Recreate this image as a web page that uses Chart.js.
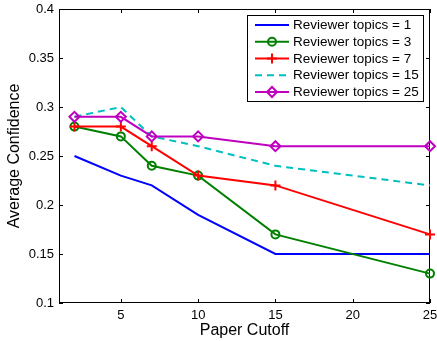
<!DOCTYPE html>
<html>
<head>
<meta charset="utf-8">
<script src="https://cdn.jsdelivr.net/npm/chart.js@4/dist/chart.umd.min.js"></script>
<style>
  html, body { margin: 0; padding: 0; background: #fff; }
</style>
</head>
<body>
<canvas id="confChart" width="437" height="341"></canvas>
<script>
// values
const cutoffs = [2, 5, 7, 10, 15, 25];
const topics1 = [0.25, 0.23, 0.22, 0.19, 0.15, 0.15];
const topics3 = [0.28, 0.27, 0.24, 0.23, 0.17, 0.13];
const topics7 = [0.28, 0.28, 0.26, 0.23, 0.22, 0.17];
const topics15 = [0.29, 0.30, 0.27, 0.26, 0.24, 0.22];
const topics25 = [0.29, 0.29, 0.27, 0.27, 0.26, 0.26];
const seriesLabels = ['Reviewer topics = 1', 'Reviewer topics = 3', 'Reviewer topics = 7',
                      'Reviewer topics = 15', 'Reviewer topics = 25'];
const xTicks = [5, 10, 15, 20, 25];
const yTicks = [0.1, 0.15, 0.2, 0.25, 0.3, 0.35, 0.4];

const FONT = '"Liberation Sans", Arial, sans-serif';

function toPoints(vals) {
    return cutoffs.map((c, i) => ({ x: c, y: vals[i] }));
}

function makeSet(label, vals, color, style, radius, dash, order) {
    return {
        label: label,
        data: toPoints(vals),
        borderColor: color,
        backgroundColor: color,
        borderWidth: 2,
        borderDash: dash,
        pointStyle: style,
        pointRadius: radius,
        pointBorderColor: color,
        pointBackgroundColor: 'rgba(0,0,0,0)',
        pointBorderWidth: 2,
        tension: 0,
        fill: false,
        clip: false,
        order: order
    };
}

const datasets = [
    makeSet(seriesLabels[0], topics1, '#0000ff', 'circle', 0, [], 5),
    makeSet(seriesLabels[1], topics3, '#008000', 'circle', 4, [], 4),
    makeSet(seriesLabels[2], topics7, '#ff0000', 'cross', 5, [], 3),
    makeSet(seriesLabels[3], topics15, '#00bfbf', 'circle', 0, [7, 5], 2),
    makeSet(seriesLabels[4], topics25, '#bf00bf', 'rectRot', 5, [], 1)
];

// box round the plot with inward tick marks, matlab style
const frameAndTicks = {
    id: 'frameAndTicks',
    beforeDatasetsDraw(chart) {
        const { ctx, chartArea: a, scales: { x, y } } = chart;
        ctx.save();
        ctx.strokeStyle = '#000';
        ctx.lineWidth = 1;
        ctx.beginPath();
        xTicks.forEach(v => {
            const px = Math.round(x.getPixelForValue(v)) + 0.5;
            ctx.moveTo(px, a.bottom); ctx.lineTo(px, a.bottom - 4);
            ctx.moveTo(px, a.top); ctx.lineTo(px, a.top + 4);
        });
        yTicks.forEach(v => {
            const py = Math.round(y.getPixelForValue(v)) + 0.5;
            ctx.moveTo(a.left, py); ctx.lineTo(a.left + 4, py);
            ctx.moveTo(a.right, py); ctx.lineTo(a.right - 4, py);
        });
        ctx.stroke();
        ctx.strokeRect(a.left + 0.5, a.top + 0.5, a.right - a.left - 1, a.bottom - a.top - 1);
        ctx.restore();
    }
};

function drawMarker(ctx, style, cx, cy, r) {
    ctx.beginPath();
    if (style === 'circle') {
        ctx.arc(cx, cy, r, 0, Math.PI * 2);
    } else if (style === 'cross') {
        ctx.moveTo(cx - r, cy); ctx.lineTo(cx + r, cy);
        ctx.moveTo(cx, cy - r); ctx.lineTo(cx, cy + r);
    } else if (style === 'rectRot') {
        ctx.moveTo(cx - r, cy); ctx.lineTo(cx, cy - r);
        ctx.lineTo(cx + r, cy); ctx.lineTo(cx, cy + r);
        ctx.closePath();
    }
    ctx.stroke();
}

// legend box in the top right corner, line sample + marker
const boxLegend = {
    id: 'boxLegend',
    afterDatasetsDraw(chart) {
        const { ctx } = chart;
        const left = 247, top = 15, w = 176, h = 86;
        ctx.save();
        ctx.fillStyle = '#fff';
        ctx.fillRect(left, top, w, h);
        ctx.strokeStyle = '#000';
        ctx.lineWidth = 1;
        ctx.strokeRect(left + 0.5, top + 0.5, w, h);
        ctx.font = '13.5px ' + FONT;
        ctx.textBaseline = 'middle';
        ctx.textAlign = 'left';
        chart.data.datasets.forEach((ds, i) => {
            const rowY = top + 10 + i * 16.75;
            ctx.strokeStyle = ds.borderColor;
            ctx.lineWidth = 2;
            ctx.setLineDash(ds.borderDash);
            ctx.beginPath();
            ctx.moveTo(255, rowY); ctx.lineTo(289, rowY);
            ctx.stroke();
            ctx.setLineDash([]);
            if (ds.pointRadius > 0) drawMarker(ctx, ds.pointStyle, 272, rowY, ds.pointRadius);
            ctx.fillStyle = '#000';
            ctx.fillText(ds.label, 293, rowY + 0.5);
        });
        ctx.restore();
    }
};

new Chart(document.getElementById('confChart'), {
    type: 'line',
    data: { datasets: datasets },
    options: {
        responsive: false,
        animation: false,
        events: [],
        layout: { padding: { top: 9, right: 5, left: 0, bottom: 0 } },
        plugins: {
            legend: { display: false },
            tooltip: { enabled: false }
        },
        scales: {
            x: {
                type: 'linear',
                min: 1,
                max: 25,
                grid: { display: false, drawTicks: false },
                border: { display: false },
                afterBuildTicks: (scale) => { scale.ticks = xTicks.map(v => ({ value: v })); },
                afterFit: (scale) => { scale.height = 38; scale.paddingLeft = 0; scale.paddingRight = 0; },
                ticks: { color: '#000', font: { family: FONT, size: 13 }, padding: 5, maxRotation: 0 },
                title: {
                    display: true, text: 'Paper Cutoff', color: '#000',
                    font: { family: FONT, size: 16 }, padding: { top: 0, bottom: 1 }
                }
            },
            y: {
                min: 0.1,
                max: 0.4,
                grid: { display: false, drawTicks: false },
                border: { display: false },
                afterBuildTicks: (scale) => { scale.ticks = yTicks.map(v => ({ value: v })); },
                afterFit: (scale) => { scale.width = 59; scale.paddingTop = 0; scale.paddingBottom = 0; },
                ticks: {
                    color: '#000', font: { family: FONT, size: 13 }, padding: 5,
                    callback: (v) => String(Math.round(v * 100) / 100)
                },
                title: {
                    display: true, text: 'Average Confidence', color: '#000',
                    font: { family: FONT, size: 16 }, padding: { top: 5, bottom: 0 }
                }
            }
        }
    },
    plugins: [frameAndTicks, boxLegend]
});
</script>
</body>
</html>
